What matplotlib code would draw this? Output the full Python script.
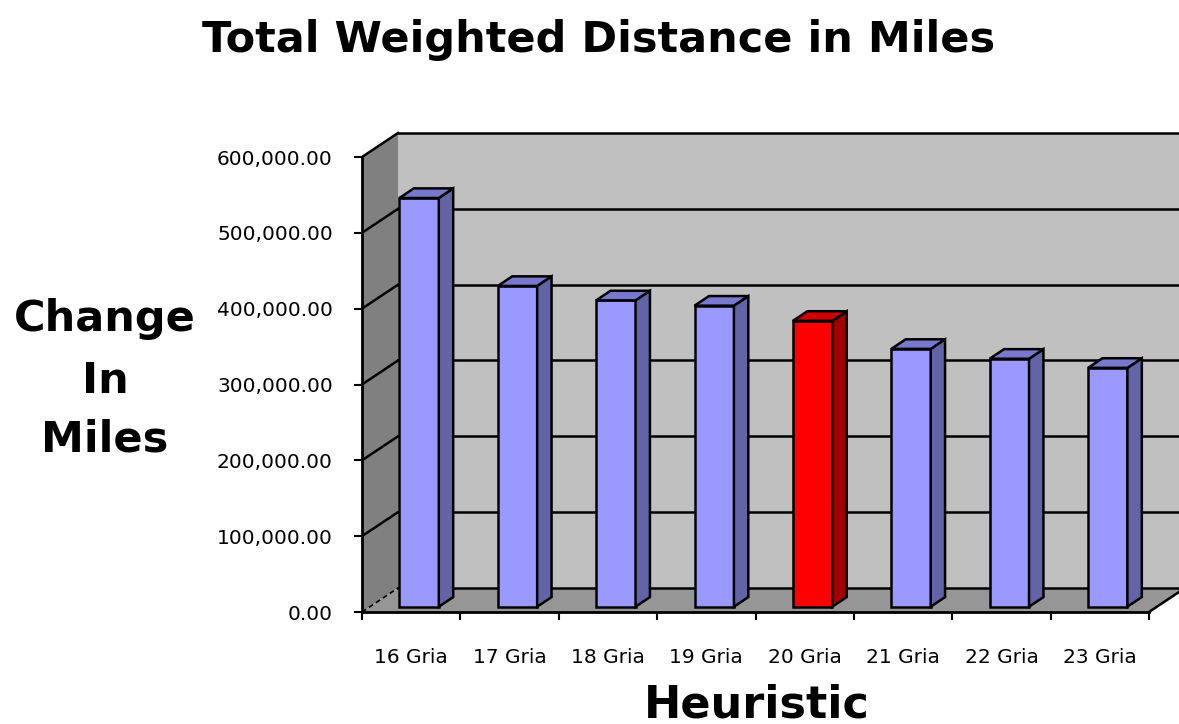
import matplotlib
matplotlib.use("Agg")
import matplotlib.pyplot as plt
from matplotlib.patches import Polygon
from matplotlib.ticker import FuncFormatter

# data
categories = ["16 Gria", "17 Gria", "18 Gria", "19 Gria", "20 Gria", "21 Gria", "22 Gria", "23 Gria"]
values = [539000, 423000, 404000, 397000, 377000, 340000, 327000, 315000]
highlight = "20 Gria"
y_ticks = [0, 100000, 200000, 300000, 400000, 500000, 600000]

# fake 3d look: offset of the back wall in data units
DX = 0.366
DY = 31650
YMAX = 600000
N = len(categories)
# bar position in depth (fraction of full depth) and width
D0, D1 = 0.22, 0.62
BW = 0.40

fig = plt.figure(figsize=(11.79, 7.24), dpi=100)
ax = fig.add_axes([362/1179, (724-612)/724, (1149-362)/1179, (612-157)/724])
ax.set_xlim(0, N)
ax.set_ylim(0, YMAX)
ax.patch.set_alpha(0)

def poly(pts, fc, z, ec="none", lw=0):
    p = Polygon(pts, closed=True, fc=fc, ec=ec, lw=lw, zorder=z, clip_on=False)
    ax.add_patch(p)

# walls and floor
poly([(DX, DY), (N+DX, DY), (N+DX, YMAX+DY), (DX, YMAX+DY)], "#c0c0c0", 0.5)
poly([(0, 0), (DX, DY), (DX, YMAX+DY), (0, YMAX)], "#808080", 0.6)
poly([(0, 0), (N, 0), (N+DX, DY), (DX, DY)], "#969696", 0.6)

# gridlines on back and side wall
for v in y_ticks:
    ax.plot([DX, N+DX], [v+DY, v+DY], color="black", lw=1.8, zorder=1, clip_on=False)
    if v == 0:
        ax.plot([0, DX], [0, DY], color="black", lw=1.2, ls=(0, (3, 2)), zorder=1, clip_on=False)
    else:
        ax.plot([0, DX], [v, v+DY], color="black", lw=1.8, zorder=1, clip_on=False)
ax.plot([N, N+DX], [0, DY], color="black", lw=1.8, zorder=1, clip_on=False)

# bars
xs = [i + 0.5 + D0*DX for i in range(N)]
base = D0*DY
front_cols = ["#ff0000" if c == highlight else "#9999ff" for c in categories]
side_cols = ["#a00000" if c == highlight else "#6363a8" for c in categories]
top_cols = ["#cc0000" if c == highlight else "#7878cc" for c in categories]
ax.bar(xs, values, width=BW, bottom=base, color=front_cols, edgecolor="black",
       linewidth=1.8, zorder=3, clip_on=False)
dd = (D1 - D0)
for x, v, sc, tc in zip(xs, values, side_cols, top_cols):
    xr = x + BW/2
    xl = x - BW/2
    top = base + v
    poly([(xr, base), (xr, top), (xr+dd*DX, top+dd*DY), (xr+dd*DX, base+dd*DY)], sc, 3, "black", 1.8)
    poly([(xl, top), (xr, top), (xr+dd*DX, top+dd*DY), (xl+dd*DX, top+dd*DY)], tc, 3, "black", 1.8)

# axes
for s in ["top", "right"]:
    ax.spines[s].set_visible(False)
for s in ["left", "bottom"]:
    ax.spines[s].set_linewidth(2)
    ax.spines[s].set_zorder(2.5)

ax.set_yticks(y_ticks)
ax.yaxis.set_major_formatter(FuncFormatter(lambda v, p: "{:,.2f}".format(v)))
ax.tick_params(axis="y", direction="out", length=6, width=1.5, pad=15, labelsize=14.5)

ax.set_xticks(range(N + 1))
ax.set_xticklabels([])
ax.set_xticks([i + 0.5 for i in range(N)], minor=True)
ax.set_xticklabels(categories, minor=True)
ax.tick_params(axis="x", which="major", direction="out", length=6, width=1.5)
ax.tick_params(axis="x", which="minor", length=0, pad=26, labelsize=14.5)

# titles
fig.text(599/1179, 1 - 52/724, "Total Weighted Distance in Miles", ha="center", va="baseline",
         fontsize=31, fontweight="bold")
fig.text(757/1179, 1 - 717/724, "Heuristic", ha="center", va="baseline",
         fontsize=32, fontweight="bold")
for word, yb in [("Change", 331), ("In", 393), ("Miles", 452)]:
    fig.text(105/1179, 1 - yb/724, word, ha="center", va="baseline", fontsize=31, fontweight="bold")

fig.savefig("out.png", dpi=100)
